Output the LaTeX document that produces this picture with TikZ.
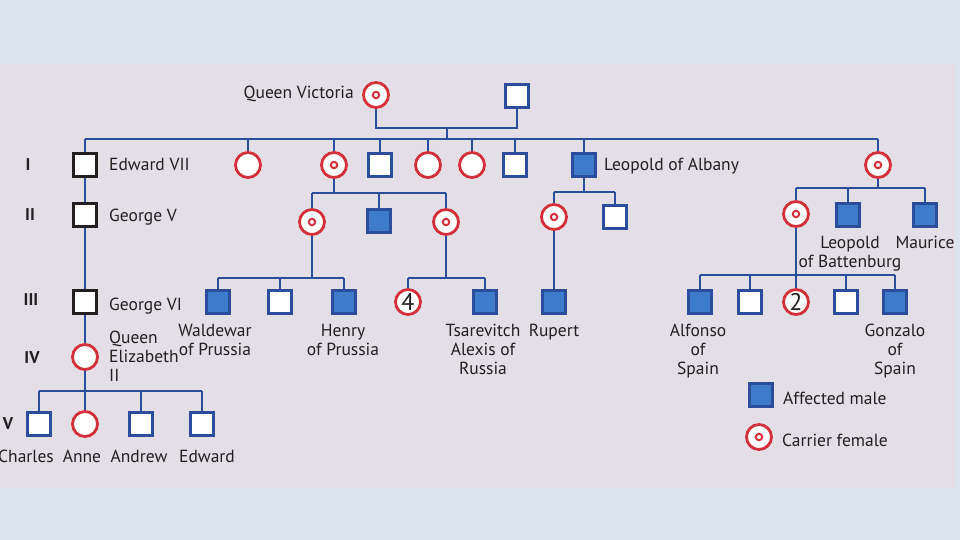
\documentclass[tikz,border=0pt]{standalone}
\usepackage{fontspec}
\setmainfont{PT Sans}
\usetikzlibrary{positioning, calc}
\definecolor{bgout}{HTML}{DCE4F0}
\definecolor{panel}{HTML}{E4DFE7}
\definecolor{linkblue}{HTML}{2B4D9C}
\definecolor{affblue}{HTML}{3E7BCB}
\definecolor{carred}{HTML}{D3303C}
\definecolor{ink}{HTML}{231F20}

\begin{document}
\begin{tikzpicture}[x=1pt, y=-1pt,
  every node/.style={font=\fontsize{17.5}{19}\selectfont, text=ink},
  link/.style={linkblue, line width=2.6pt},
  male/.style={draw=linkblue, fill=white, line width=3pt, minimum size=23pt, inner sep=0pt},
  king/.style={male, draw=ink},
  affected/.style={male, fill=affblue},
  female/.style={circle, draw=carred, fill=white, line width=2.8pt, minimum size=25pt, inner sep=0pt},
  carrier/.style={female, path picture={\draw[carred, line width=2pt] (path picture bounding box.center) circle (3.2pt);}},
  gen/.style={anchor=base, font=\fontsize{17}{19}\selectfont\bfseries},
  personlab/.style={anchor=base, align=center, inner sep=1pt},
  sidelab/.style={anchor=base west, inner sep=1pt}
]
  \useasboundingbox (0,0) rectangle (960,540);
  \fill[bgout] (0,0) rectangle (960,540);
  \fill[panel] (0,64) rectangle (955,488);

  % Queen Victoria and husband
  \node[carrier] (victoria) at (376,95) {};
  \node[male] (albert) at (517,96) {};
  \node[anchor=base east, inner sep=1pt] (victorialab) at (355,99) {Queen Victoria};
  \coordinate (m0) at (447,128);
  \coordinate (s0) at (447,139);
  \draw[link] (victoria) |- (m0) -| (albert);
  \draw[link] (m0) -- (s0);

  % generation I
  \node[king] (edward7) at (85,165) {};
  \node[female] (vicky) at (248,165) {};
  \node[carrier] (alice) at (334,165) {};
  \node[male] (alfred) at (380,165) {};
  \node[female] (helena) at (428,165) {};
  \node[female] (louise) at (472,165) {};
  \node[male] (arthur) at (515,165) {};
  \node[affected] (leopold) at (584,165) {};
  \node[carrier] (beatrice) at (878,165) {};
  \draw[link] (edward7 |- s0) -- (beatrice |- s0);
  \foreach \k in {edward7, vicky, alice, alfred, helena, louise, arthur, leopold, beatrice}
    \draw[link] (\k |- s0) -- (\k);
  \node[sidelab] (edward7lab) at (108,171) {Edward VII};
  \node[sidelab] (leopoldlab) at (603,171) {Leopold of Albany};

  % generation II
  \node[king] (george5) at (85,215) {};
  \node[sidelab] (george5lab) at (108,221) {George V};
  \draw[link] (edward7) -- (george5);

  \node[carrier] (irene) at (312,222) {};
  \node[affected] (fritz) at (379,221) {};
  \node[carrier] (alix) at (446,222) {};
  \coordinate (s1) at (334,193);
  \draw[link] (alice) -- (s1);
  \draw[link] (irene |- s1) -- (alix |- s1);
  \foreach \k in {irene, fritz, alix}
    \draw[link] (\k |- s1) -- (\k);

  \node[carrier] (alicea) at (554,217) {};
  \node[male] (charlesed) at (615,217) {};
  \coordinate (s2) at (584,192);
  \draw[link] (leopold) -- (s2);
  \draw[link] (alicea |- s2) -- (charlesed |- s2);
  \foreach \k in {alicea, charlesed}
    \draw[link] (\k |- s2) -- (\k);

  \node[carrier] (ena) at (796,214) {};
  \node[affected] (leob) at (848,215) {};
  \node[affected] (maurice) at (925,215) {};
  \coordinate (s3) at (878,188);
  \draw[link] (beatrice) -- (s3);
  \draw[link] (ena |- s3) -- (maurice |- s3);
  \foreach \k in {ena, leob, maurice}
    \draw[link] (\k |- s3) -- (\k);
  % multi-line labels are anchored on their last baseline
  \node[personlab] (leoblab) at (850,267) {Leopold\\of Battenburg};
  \node[personlab] (mauricelab) at (925,248) {Maurice};

  % generation III
  \node[king] (george6) at (85,302) {};
  \node[sidelab] (george6lab) at (108,310) {George VI};
  \draw[link] (george5) -- (george6);

  \node[affected] (waldemar) at (218,302) {};
  \node[male] (sigismund) at (280,302) {};
  \node[affected] (henry) at (344,302) {};
  \coordinate (s4) at (312,278);
  \draw[link] (irene) -- (s4);
  \draw[link] (waldemar |- s4) -- (henry |- s4);
  \foreach \k in {waldemar, sigismund, henry}
    \draw[link] (\k |- s4) -- (\k);

  \node[female, font=\fontsize{24}{24}\selectfont] (four) at (408,302) {4};
  \node[affected] (alexis) at (485,302) {};
  \coordinate (s5) at (446,278);
  \draw[link] (alix) -- (s5);
  \draw[link] (four |- s5) -- (alexis |- s5);
  \foreach \k in {four, alexis}
    \draw[link] (\k |- s5) -- (\k);

  \node[affected] (rupert) at (554,302) {};
  \draw[link] (alicea) -- (rupert);

  \node[affected] (alfonso) at (700,302) {};
  \node[male] (jaime) at (750,302) {};
  \node[female, font=\fontsize{24}{24}\selectfont] (two) at (796,302) {2};
  \node[male] (juan) at (846,302) {};
  \node[affected] (gonzalo) at (895,302) {};
  \coordinate (s6) at (796,275);
  \draw[link] (ena) -- (s6);
  \draw[link] (alfonso |- s6) -- (gonzalo |- s6);
  \foreach \k in {alfonso, jaime, two, juan, gonzalo}
    \draw[link] (\k |- s6) -- (\k);

  \node[personlab] (waldemarlab) at (215,355) {Waldewar\\of Prussia};
  \node[personlab] (henrylab) at (343,355) {Henry\\of Prussia};
  \node[personlab] (alexislab) at (483,374) {Tsarevitch\\Alexis of\\Russia};
  \node[personlab] (rupertlab) at (554,336) {Rupert};
  \node[personlab] (alfonsolab) at (698,374) {Alfonso\\of\\Spain};
  \node[personlab] (gonzalolab) at (895,374) {Gonzalo\\of\\Spain};

  % generations IV and V
  \node[female] (elizabeth) at (85,357) {};
  \node[sidelab, align=left] (elizabethlab) at (108,381) {Queen\\Elizabeth\\II};
  \draw[link] (george6) -- (elizabeth);

  \node[male] (charles) at (39,424) {};
  \node[female] (anne) at (85,424) {};
  \node[male] (andrew) at (141,424) {};
  \node[male] (edward) at (202,424) {};
  \coordinate (s7) at (85,391);
  \draw[link] (elizabeth) -- (s7);
  \draw[link] (charles |- s7) -- (edward |- s7);
  \foreach \k in {charles, anne, andrew, edward}
    \draw[link] (\k |- s7) -- (\k);
  \node[personlab] (charleslab) at (26,462) {Charles};
  \node[personlab] (annelab) at (82,462) {Anne};
  \node[personlab] (andrewlab) at (139,462) {Andrew};
  \node[personlab] (edwardlab) at (207,462) {Edward};

  % generation numbers
  \node[gen] (g1) at (28,171) {I};
  \node[gen] (g2) at (30,220) {II};
  \node[gen] (g3) at (31,305) {III};
  \node[gen] (g4) at (32,363) {IV};
  \node[gen] (g5) at (8,429) {V};

  % legend
  \node[affected] (keyaff) at (761,395) {};
  \node[sidelab] (keyafflab) at (782,404) {Affected male};
  \node[carrier] (keycar) at (759,437) {};
  \node[sidelab] (keycarlab) at (781,446) {Carrier female};
\end{tikzpicture}
\end{document}
